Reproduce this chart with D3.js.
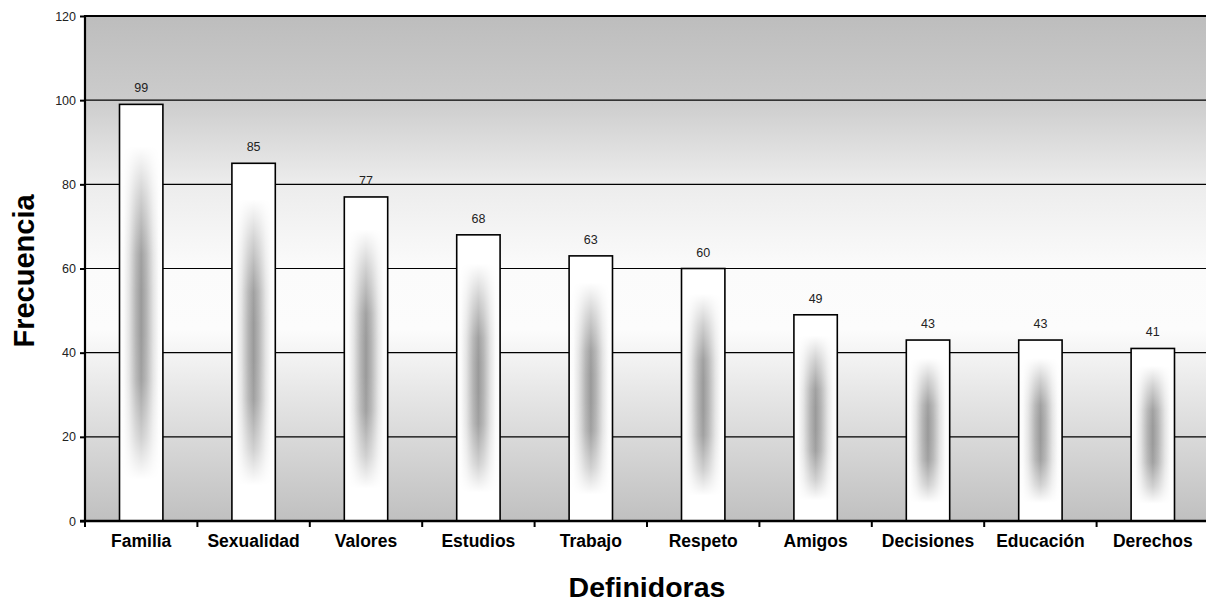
<!DOCTYPE html>
<html><head><meta charset="utf-8">
<script src="https://cdn.jsdelivr.net/npm/d3@7"></script>
<style>body{margin:0;background:#fff}svg{display:block}text{font-family:Arial,"Liberation Sans",sans-serif}</style>
</head><body>
<svg id="c" width="1206" height="605"></svg>
<script>
const categories = ["Familia","Sexualidad","Valores","Estudios","Trabajo","Respeto","Amigos","Decisiones","Educación","Derechos"];
const values = [99,85,77,68,63,60,49,43,43,41];
const yTicks = [0,20,40,60,80,100,120];
const xTitle = "Definidoras";
const yTitle = "Frecuencia";

const svg = d3.select("#c");
const L = 85, R = 1209, T = 16, B = 521;
const x = d3.scaleBand().domain(categories).range([L, R]).padding(0);
const y = d3.scaleLinear().domain([0,120]).range([B, T]);

const defs = svg.append("defs");
const bg = defs.append("linearGradient").attr("id","bg").attr("x1",0).attr("y1",0).attr("x2",0).attr("y2",1);
[[0,"#bdbdbd"],[0.16,"#cbcbcb"],[0.33,"#ececec"],[0.5,"#fbfbfb"],[0.62,"#fcfcfc"],[0.75,"#e6e6e6"],[1,"#c0c0c0"]]
  .forEach(([o,c])=>bg.append("stop").attr("offset",o).attr("stop-color",c));

const hg = defs.append("linearGradient").attr("id","hg").attr("x1",0).attr("y1",0).attr("x2",1).attr("y2",0);
[[0,"#ffffff"],[0.1,"#fbfbfb"],[0.22,"#e4e4e4"],[0.38,"#b4b4b4"],[0.5,"#9a9a9a"],[0.62,"#b4b4b4"],[0.78,"#e4e4e4"],[0.9,"#fbfbfb"],[1,"#ffffff"]]
  .forEach(([o,c])=>hg.append("stop").attr("offset",o).attr("stop-color",c));
const vg = defs.append("linearGradient").attr("id","vg").attr("x1",0).attr("y1",0).attr("x2",0).attr("y2",1);
[[0,"black"],[0.1,"black"],[0.22,"#777"],[0.36,"#eee"],[0.45,"white"],[0.55,"white"],[0.66,"#eee"],[0.8,"#777"],[0.9,"black"],[1,"black"]]
  .forEach(([o,c])=>vg.append("stop").attr("offset",o).attr("stop-color",c));
const mask = defs.append("mask").attr("id","bm").attr("maskContentUnits","objectBoundingBox");
mask.append("rect").attr("x",0).attr("y",0).attr("width",1).attr("height",1).attr("fill","url(#vg)");

// plot background
svg.append("rect").attr("x",L).attr("y",T).attr("width",R-L).attr("height",B-T).attr("fill","url(#bg)");

// gridlines
svg.append("g").selectAll("line").data(yTicks.filter(d=>d>0&&d<120)).join("line")
  .attr("x1",L).attr("x2",R).attr("y1",d=>y(d)).attr("y2",d=>y(d))
  .attr("stroke","#000").attr("stroke-width",1.2);
svg.append("line").attr("x1",L).attr("x2",R).attr("y1",T).attr("y2",T).attr("stroke","#000").attr("stroke-width",2);

// bars
const bw = x.bandwidth()*0.386;
const bars = svg.append("g").selectAll("g").data(values.map((v,i)=>({c:categories[i],v}))).join("g");
bars.append("rect").attr("x",d=>x(d.c)+x.bandwidth()/2-bw/2).attr("y",d=>y(d.v))
  .attr("width",bw).attr("height",d=>B-y(d.v)).attr("fill","#fff");
bars.append("rect").attr("x",d=>x(d.c)+x.bandwidth()/2-bw/2).attr("y",d=>y(d.v))
  .attr("width",bw).attr("height",d=>B-y(d.v)).attr("fill","url(#hg)").attr("mask","url(#bm)");
bars.append("rect").attr("x",d=>x(d.c)+x.bandwidth()/2-bw/2).attr("y",d=>y(d.v))
  .attr("width",bw).attr("height",d=>B-y(d.v)).attr("fill","none").attr("stroke","#000").attr("stroke-width",1.6);
bars.append("text").attr("x",d=>x(d.c)+x.bandwidth()/2).attr("y",d=>y(d.v)-12)
  .attr("text-anchor","middle").attr("font-size",12.5).attr("fill","#222").text(d=>d.v);

// axes
const ya = svg.append("g").attr("transform",`translate(${L},0)`)
  .call(d3.axisLeft(y).tickValues(yTicks).tickSize(5).tickPadding(4).tickFormat(d3.format("d")));
ya.select(".domain").attr("stroke-width",2.2).attr("d",`M0,${T-1}V${B}`);
ya.selectAll(".tick line").attr("stroke-width",2);
ya.selectAll(".tick text").attr("font-size",12.5).attr("fill","#222").attr("font-family","Arial, 'Liberation Sans', sans-serif");

const xa = svg.append("g").attr("transform",`translate(0,${B})`)
  .call(d3.axisBottom(x).tickSize(0).tickPadding(24));
xa.select(".domain").attr("stroke-width",2.4).attr("d",`M${L-5},0H${R}`);
xa.selectAll(".tick text").attr("font-size",17.5).attr("font-weight","bold").attr("fill","#000")
  .attr("font-family","Arial, 'Liberation Sans', sans-serif").attr("dy","0.1em");
const bounds = categories.map(c=>x(c));
svg.append("g").selectAll("line").data(bounds).join("line")
  .attr("x1",d=>d).attr("x2",d=>d).attr("y1",B).attr("y2",B+6).attr("stroke","#000").attr("stroke-width",2);

// titles
svg.append("text").attr("x",(L+R)/2).attr("y",597).attr("text-anchor","middle")
  .attr("font-size",28.5).attr("font-weight","bold").text(xTitle);
svg.append("text").attr("transform",`translate(34,${271}) rotate(-90)`).attr("text-anchor","middle")
  .attr("font-size",29).attr("font-weight","bold").text(yTitle);
</script>
</body></html>
